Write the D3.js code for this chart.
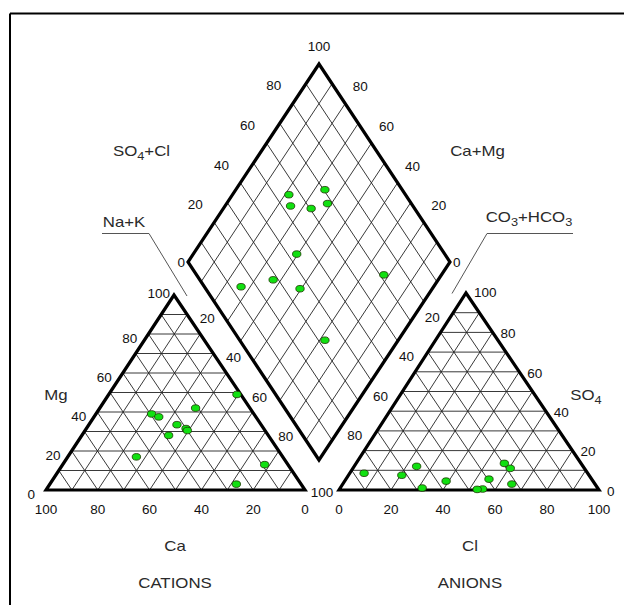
<!DOCTYPE html>
<html><head><meta charset="utf-8">
<script src="https://cdn.jsdelivr.net/npm/d3@7"></script>
<style>html,body{margin:0;padding:0;background:#fff;} svg{display:block;}</style>
</head><body>
<script>
// ---- data (percent of meq) ----
const sampleIds = [1, 2, 3, 4, 5, 6, 7, 8, 9, 10, 11];
const ca   = [9,   25,  39.5, 37.5, 56.5, 1.5,  32.5, 30,   38.5, 30,   21];
const mg   = [13,  3,   39,   37.5, 17,   49,   33.5, 31.5, 28,   30.5, 42];
const naK  = [78,  72,  21.5, 25,   26.5, 49.5, 34,   38.5, 33.5, 39.5, 37];
const cl   = [60.5, 31.5, 55,  53,   5.5,  24,   57,   65,   55,   39,   20.5];
const so4  = [11,   1,    0.5, 0.3,  8.5,  12,   13.5, 3,    5.5,  4.5,  7.5];
const hco3 = [28.5, 67.5, 44.5, 46.7, 86,  64,   29.5, 32,   39.5, 56.5, 72];
const tickValues = [0, 20, 40, 60, 80, 100];
const gridValues = [10, 20, 30, 40, 50, 60, 70, 80, 90];

const W = 624, H = 605;
const svg = d3.select("body").append("svg").attr("width", W).attr("height", H)
  .style("font-family", "'Liberation Sans', Arial, sans-serif");

// frame (top and left only visible)
svg.append("line").attr("x1", 10).attr("y1", 13.5).attr("x2", W).attr("y2", 13.5).attr("stroke", "#000").attr("stroke-width", 2);
svg.append("line").attr("x1", 10).attr("y1", 13.5).attr("x2", 10).attr("y2", H).attr("stroke", "#000").attr("stroke-width", 2);

// ---- geometry via linear scales ----
const pct = d3.scaleLinear().domain([0, 100]).range([0, 1]);
function ternary(A, B, C) { // A,B,C vertices; returns f(a,b,c)
  return (a, b, c) => {
    const s = a + b + c;
    const wa = pct(a / s * 100), wb = pct(b / s * 100), wc = pct(c / s * 100);
    return [wa * A[0] + wb * B[0] + wc * C[0], wa * A[1] + wb * B[1] + wc * C[1]];
  };
}
// cation triangle: Ca (bottom-left), Na+K (bottom-right), Mg (apex)
const catV = { ca: [46, 490], nak: [305, 490], mg: [174, 295] };
const cat = ternary(catV.ca, catV.nak, catV.mg);
// anion triangle: HCO3 (bottom-left), Cl (bottom-right), SO4 (apex)
const anV = { hco3: [339, 490], cl: [599, 490], so4: [466, 293] };
const an = ternary(anV.hco3, anV.cl, anV.so4);
// diamond: B (bottom), L (left), R (right)
const dB = [319, 460], dL = [188, 262], dR = [450, 262];
const dia = (cm, sc) => [dB[0] + pct(cm) * (dL[0] - dB[0]) + pct(sc) * (dR[0] - dB[0]),
                         dB[1] + pct(cm) * (dL[1] - dB[1]) + pct(sc) * (dR[1] - dB[1])];

const line = d3.line();
const gGrid = svg.append("g").attr("stroke", "#222").attr("stroke-width", 0.9).attr("fill", "none");

// triangle grids
function triGrid(f) {
  gridValues.forEach(k => {
    gGrid.append("path").attr("d", line([f(100 - k, 0, k), f(0, 100 - k, k)]));
    gGrid.append("path").attr("d", line([f(100 - k, k, 0), f(0, k, 100 - k)]));
    gGrid.append("path").attr("d", line([f(k, 100 - k, 0), f(k, 0, 100 - k)]));
  });
}
triGrid(cat);
triGrid(an);
gridValues.forEach(k => {
  gGrid.append("path").attr("d", line([dia(k, 0), dia(k, 100)]));
  gGrid.append("path").attr("d", line([dia(0, k), dia(100, k)]));
});

// outlines
const gOut = svg.append("g").attr("stroke", "#000").attr("stroke-width", 3.2).attr("fill", "none").attr("stroke-linejoin", "miter");
gOut.append("path").attr("d", line([cat(100, 0, 0), cat(0, 100, 0), cat(0, 0, 100)]) + "Z");
gOut.append("path").attr("d", line([an(100, 0, 0), an(0, 100, 0), an(0, 0, 100)]) + "Z");
gOut.append("path").attr("d", line([dia(0, 0), dia(100, 0), dia(100, 100), dia(0, 100)]) + "Z");

// ---- tick labels ----
const gT = svg.append("g").attr("font-size", 13.5).attr("fill", "#111");
function tl(x, y, txt, anchor) {
  gT.append("text").attr("x", x).attr("y", y).attr("dy", "0.36em").attr("text-anchor", anchor || "middle").text(txt);
}
tickValues.forEach(v => {
  // Mg (left edge of cation triangle)
  const p = cat(100 - v, 0, v);
  if (v === 100) tl(p[0] - 4, p[1] - 2, v, "end");
  else tl(p[0] - 11, p[1] + 4, v, "end");
  // Ca (bottom of cation triangle)
  const q = cat(v, 100 - v, 0);
  tl(q[0], 509, v);
  // Cl (bottom of anion triangle)
  const r = an(100 - v, v, 0);
  tl(r[0], 509, v);
  // SO4 (right edge of anion triangle)
  const s = an(0, 100 - v, v);
  tl(s[0] + 8, s[1] + (v === 100 ? -1 : 1), v, "start");
  // Na+K and CO3+HCO3 between triangles and diamond
  if (v > 0 && v < 100) {
    const a1 = cat(0, v, 100 - v), a2 = dia(100 - v, 0);
    tl((a1[0] + a2[0]) / 2, (a1[1] + a2[1]) / 2 + 0.5, v);
    const b1 = an(v, 0, 100 - v), b2 = dia(0, 100 - v);
    tl((b1[0] + b2[0]) / 2, (b1[1] + b2[1]) / 2, v);
  }
  if (v === 100) {
    const a1 = cat(0, 100, 0), b1 = an(100, 0, 0);
    tl((a1[0] + b1[0]) / 2, a1[1] + 2, v);
  }
  // diamond upper edges
  if (v < 100) {
    const u = dia(100, v);
    if (v === 0) tl(u[0] - 3, u[1], v, "end"); else tl(u[0] - 19, u[1] - 18, v);
    const w = dia(v, 100);
    if (v === 0) tl(w[0] + 3, w[1], v, "start"); else tl(w[0] + 15, w[1] - 17, v);
  } else {
    const t = dia(100, 100);
    tl(t[0], t[1] - 18, v);
  }
});

// ---- titles ----
const gL = svg.append("g").attr("font-size", 14.5).attr("fill", "#2a2a2a");
function title(x, y, parts) {
  const t = gL.append("text").attr("transform", `translate(${x},${y}) scale(1.16,1)`).attr("text-anchor", "middle");
  parts.forEach(pt => {
    const ts = t.append("tspan").text(pt[0]);
    if (pt[1]) ts.attr("font-size", 11).attr("dy", 4);
    else if (pt[2]) ts.attr("dy", -4);
  });
}
title(141.5, 156, [["SO"], ["4", true], ["+Cl", false, true]]);
title(477.5, 155.5, [["Ca+Mg"]]);
title(124, 226.5, [["Na+K"]]);
title(529, 221.5, [["CO"], ["3", true], ["+HCO", false, true], ["3", true]]);
title(56, 400, [["Mg"]]);
title(586, 400, [["SO"], ["4", true]]);
title(175, 551, [["Ca"]]);
title(470, 551, [["Cl"]]);
title(175, 588, [["CATIONS"]]);
title(470, 588, [["ANIONS"]]);

// pointer lines
const gP = svg.append("g").attr("stroke", "#555").attr("stroke-width", 1).attr("fill", "none");
gP.append("path").attr("d", line([[102, 233.5], [149, 233.5], [187, 296]]));
gP.append("path").attr("d", line([[573, 233.5], [487, 233.5], [452, 293.5]]));

// ---- points ----
const gPts = svg.append("g").attr("fill", "#11e011").attr("stroke", "#1c3300").attr("stroke-width", 0.8);
function dot(p) { gPts.append("ellipse").attr("cx", p[0]).attr("cy", p[1]).attr("rx", 4.2).attr("ry", 3.3); }
sampleIds.forEach((id, i) => {
  dot(cat(ca[i], naK[i], mg[i]));
  dot(an(hco3[i], cl[i], so4[i]));
  const cm = (ca[i] + mg[i]) / (ca[i] + mg[i] + naK[i]) * 100;
  const sc = (so4[i] + cl[i]) / (so4[i] + cl[i] + hco3[i]) * 100;
  dot(dia(cm, sc));
});
</script>
</body></html>
